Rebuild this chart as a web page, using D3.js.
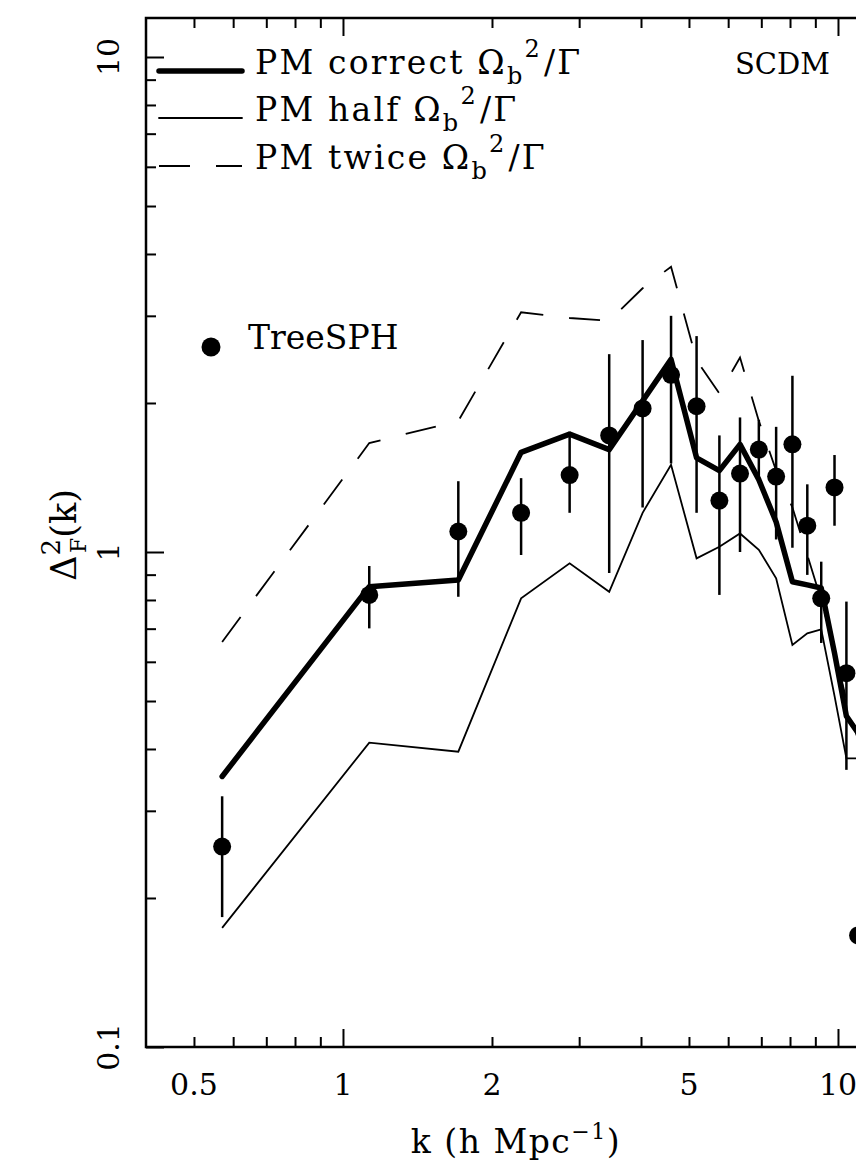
<!DOCTYPE html>
<html>
<head>
<meta charset="utf-8">
<script src="https://cdn.jsdelivr.net/npm/d3@7/dist/d3.min.js"></script>
<style>
  body { margin: 0; background: #fff; }
  svg text { font-family: "DejaVu Serif", serif; fill: #000; }
</style>
</head>
<body>
<div id="chart"></div>
<script>
// k values (h/Mpc) of the modes
var kVals = [0.57, 1.13, 1.71, 2.29, 2.87, 3.45, 4.03, 4.6, 5.18, 5.76, 6.34, 6.92, 7.5, 8.09, 8.67, 9.25, 9.84, 10.4, 10.98];

// TreeSPH points with error bars
var treeSPH = [0.254, 0.819, 1.10, 1.20, 1.43, 1.72, 1.95, 2.28, 1.97, 1.27, 1.44, 1.61, 1.42, 1.65, 1.13, 0.806, 1.35, 0.569, 0.168];
var errLo   = [0.183, 0.701, 0.812, 0.986, 1.20, 0.907, 1.23, 1.51, 1.20, 0.819, 1.00, 1.40, 1.06, 1.02, 0.899, 0.655, 1.13, 0.363, 0.168];
var errHi   = [0.321, 0.937, 1.39, 1.41, 1.75, 2.51, 2.68, 3.00, 2.73, 1.72, 1.87, 1.85, 1.79, 2.27, 1.37, 0.956, 1.57, 0.794, 0.168];

// PM runs
var pmCorrect = [0.352, 0.851, 0.878, 1.59, 1.73, 1.61, 2.02, 2.45, 1.55, 1.46, 1.65, 1.40, 1.15, 0.871, 0.858, 0.846, 0.625, 0.466, 0.431];
var pmHalf    = [0.174, 0.412, 0.395, 0.806, 0.949, 0.831, 1.20, 1.50, 0.971, 1.025, 1.09, 1.01, 0.885, 0.649, 0.685, 0.698, 0.512, 0.383, 0.383];
var pmTwice   = [0.658, 1.66, 1.84, 3.05, 2.97, 2.93, 3.41, 3.77, 2.44, 2.09, 2.47, 1.84, 1.46, 1.23, 0.986, 0.80, 0.634, 0.502, 0.417];

var xMajor = [1, 10];
var xMinor = [0.5, 0.6, 0.7, 0.8, 0.9, 2, 3, 4, 5, 6, 7, 8, 9];
var xLabels = [0.5, 1, 2, 5, 10];
var yMajor = [0.1, 1, 10];
var yMinor = [0.2, 0.3, 0.4, 0.5, 0.6, 0.7, 0.8, 0.9, 2, 3, 4, 5, 6, 7, 8, 9];
var yLabels = [0.1, 1, 10];

var width = 856, height = 1167;
var plotLeft = 146, plotTop = 18, plotBottom = 1047;
var decade = 495;

var svg = d3.select("#chart").append("svg")
    .attr("width", width)
    .attr("height", height);

svg.append("rect").attr("width", width).attr("height", height).attr("fill", "#fff");

var x = d3.scaleLog().domain([0.4, 20]).range([plotLeft, plotLeft + decade * Math.log10(50)]);
var y = d3.scaleLog().domain([0.1, 12]).range([plotBottom, plotBottom - decade * Math.log10(120)]);

// frame
svg.append("rect")
    .attr("x", plotLeft).attr("y", plotTop)
    .attr("width", x(20) - plotLeft).attr("height", plotBottom - plotTop)
    .attr("fill", "none").attr("stroke", "#000").attr("stroke-width", 2.5);

function ticks(axis, tr) {
    var g = svg.append("g").attr("transform", tr).call(axis);
    g.select(".domain").remove();
    g.selectAll("line").attr("stroke", "#000").attr("stroke-width", 2);
    g.selectAll("text").remove();
}
ticks(d3.axisBottom(x).tickValues(xMinor).tickSize(-10), "translate(0," + plotBottom + ")");
ticks(d3.axisBottom(x).tickValues(xMajor).tickSize(-18), "translate(0," + plotBottom + ")");
ticks(d3.axisTop(x).tickValues(xMinor).tickSize(-10), "translate(0," + plotTop + ")");
ticks(d3.axisTop(x).tickValues(xMajor).tickSize(-18), "translate(0," + plotTop + ")");
ticks(d3.axisLeft(y).tickValues(yMinor).tickSize(-10), "translate(" + plotLeft + ",0)");
ticks(d3.axisLeft(y).tickValues(yMajor).tickSize(-18), "translate(" + plotLeft + ",0)");

// tick labels
svg.selectAll(".xlab").data(xLabels).enter().append("text")
    .attr("x", function(d) { return x(d); })
    .attr("y", 1095)
    .attr("text-anchor", "middle")
    .attr("font-size", 30)
    .text(function(d) { return d; });

svg.selectAll(".ylab").data(yLabels).enter().append("text")
    .attr("transform", function(d) { return "translate(119," + y(d) + ") rotate(-90)"; })
    .attr("text-anchor", "middle")
    .attr("font-size", 30)
    .text(function(d) { return d; });

// axis titles
var xt = svg.append("text")
    .attr("x", 516).attr("y", 1153)
    .attr("text-anchor", "middle")
    .attr("font-size", 33)
    .attr("letter-spacing", 1.5);
xt.append("tspan").text("k (h Mpc");
xt.append("tspan").attr("dy", -14).attr("font-size", 22).text("\u22121");
xt.append("tspan").attr("dy", 14).text(")");

var yt = svg.append("text")
    .attr("transform", "translate(76,535) rotate(-90)")
    .attr("text-anchor", "middle")
    .attr("font-size", 35);
yt.append("tspan").text("\u0394");
yt.append("tspan").attr("dy", -16).attr("font-size", 26).text("2");
yt.append("tspan").attr("dx", -14).attr("dy", 26).attr("font-size", 22).text("F");
yt.append("tspan").attr("dy", -10).text("(k)");

// curves
var line = d3.line()
    .x(function(d) { return x(d[0]); })
    .y(function(d) { return y(d[1]); });

var plot = svg.append("g");

plot.append("path")
    .datum(d3.zip(kVals, pmTwice))
    .attr("d", line)
    .attr("fill", "none").attr("stroke", "#000")
    .attr("stroke-width", 1.8)
    .attr("stroke-dasharray", "31,26");

plot.append("path")
    .datum(d3.zip(kVals, pmHalf))
    .attr("d", line)
    .attr("fill", "none").attr("stroke", "#000")
    .attr("stroke-width", 1.8);

plot.append("path")
    .datum(d3.zip(kVals, pmCorrect))
    .attr("d", line)
    .attr("fill", "none").attr("stroke", "#000")
    .attr("stroke-width", 5.5)
    .attr("stroke-linejoin", "round")
    .attr("stroke-linecap", "round");

// TreeSPH error bars and points
var pts = d3.range(kVals.length).map(function(i) {
    return { k: kVals[i], v: treeSPH[i], lo: errLo[i], hi: errHi[i] };
});

plot.selectAll(".err").data(pts).enter().append("line")
    .attr("x1", function(d) { return x(d.k); })
    .attr("x2", function(d) { return x(d.k); })
    .attr("y1", function(d) { return y(d.lo); })
    .attr("y2", function(d) { return y(d.hi); })
    .attr("stroke", "#000").attr("stroke-width", 2.5);

plot.selectAll(".pt").data(pts).enter().append("circle")
    .attr("cx", function(d) { return x(d.k); })
    .attr("cy", function(d) { return y(d.v); })
    .attr("r", 9)
    .attr("fill", "#000");

// legend
var legend = [
    { label: "PM correct ", w: 5.5, dash: null, y: 71 },
    { label: "PM half ", w: 1.8, dash: null, y: 118 },
    { label: "PM twice ", w: 1.8, dash: "31,26", y: 166 }
];
legend.forEach(function(l) {
    svg.append("line")
        .attr("x1", 159).attr("x2", 242)
        .attr("y1", l.y).attr("y2", l.y)
        .attr("stroke", "#000").attr("stroke-width", l.w)
        .attr("stroke-linecap", l.dash ? "butt" : "round")
        .attr("stroke-dasharray", l.dash);
    var t = svg.append("text")
        .attr("x", 255).attr("y", l.y + 3)
        .attr("font-size", 33)
        .attr("letter-spacing", 2.2);
    t.append("tspan").text(l.label + "\u03A9");
    t.append("tspan").attr("dy", 10).attr("font-size", 24).text("b");
    t.append("tspan").attr("dy", -27).attr("font-size", 24).text("2");
    t.append("tspan").attr("dx", 2).attr("dy", 17).text("/\u0393");
});

svg.append("text")
    .attr("x", 735).attr("y", 74)
    .attr("font-size", 29)
    .text("SCDM");

svg.append("circle")
    .attr("cx", 211).attr("cy", 347).attr("r", 9.5).attr("fill", "#000");
svg.append("text")
    .attr("x", 248).attr("y", 349)
    .attr("font-size", 33)
    .text("TreeSPH");
</script>
</body>
</html>
